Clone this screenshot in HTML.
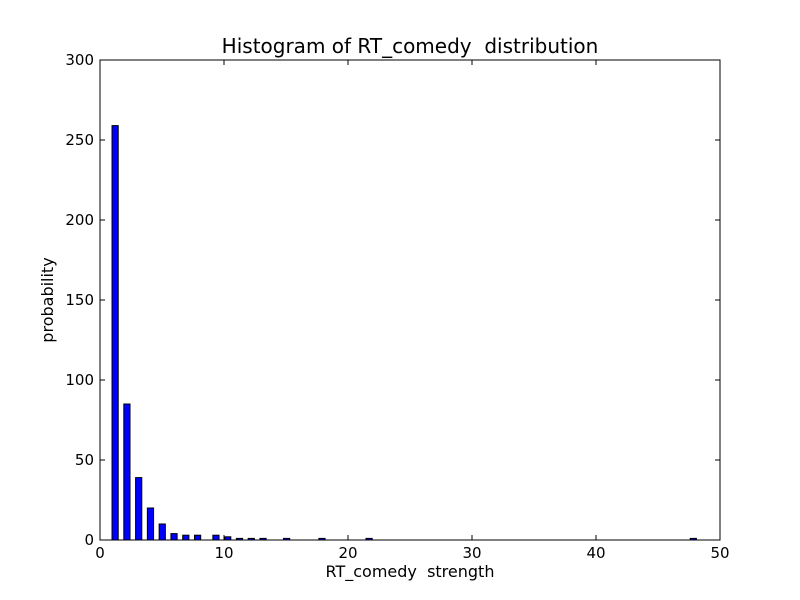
<!DOCTYPE html>
<html><head><meta charset="utf-8"><style>
body{margin:0;background:#fff;}
svg{display:block;font-family:"DejaVu Sans","Liberation Sans",sans-serif;}
text{white-space:pre;}
</style></head><body>
<svg id="c" width="800" height="600">
<rect width="800" height="600" fill="#fff"/>
<g id="bars"></g>
<rect x="100" y="60" width="620" height="480" fill="none" stroke="#000" stroke-width="1"/>
<g id="ticks"></g>
<text x="410" y="53" font-size="20" text-anchor="middle">Histogram of RT_comedy  distribution</text>
<text x="410" y="577" font-size="16" text-anchor="middle">RT_comedy  strength</text>
<text x="53" y="300" font-size="16" text-anchor="middle" transform="rotate(-90 53 300)">probability</text>
</svg>
<script>
const binLefts=[0.97,1.92,2.87,3.82,4.77,5.72,6.67,7.62,9.1,10.05,11.0,11.95,12.9,14.8,17.65,21.45,47.6];
const counts=[259,85,39,20,10,4,3,3,3,2,1,1,1,1,1,1,1];
const xTicks=[0,10,20,30,40,50];
const yTicks=[0,50,100,150,200,250,300];
const binWidth=0.5;
const X=v=>100+v*620/50, Y=v=>540-v*480/300;
const ns="http://www.w3.org/2000/svg";
const bars=document.getElementById('bars'), tk=document.getElementById('ticks');
binLefts.forEach((b,i)=>{
 const r=document.createElementNS(ns,'rect');
 r.setAttribute('x',X(b));r.setAttribute('y',Y(counts[i]));
 r.setAttribute('width',X(b+binWidth)-X(b));r.setAttribute('height',Y(0)-Y(counts[i]));
 r.setAttribute('fill','#0000ff');r.setAttribute('stroke','#000');r.setAttribute('stroke-width','1');
 
 
 bars.appendChild(r);
});
function line(x1,y1,x2,y2){const l=document.createElementNS(ns,'line');l.setAttribute('x1',x1);l.setAttribute('y1',y1);l.setAttribute('x2',x2);l.setAttribute('y2',y2);l.setAttribute('stroke','#000');tk.appendChild(l);return l;}
function text(x,y,s,a){const t=document.createElementNS(ns,'text');t.setAttribute('x',x);t.setAttribute('y',y);t.setAttribute('font-size','15');t.setAttribute('text-anchor',a);t.textContent=s;tk.appendChild(t);return t;}
xTicks.forEach(v=>{
 const x=X(v);line(x,540,x,535);line(x,60,x,65);
 const t=text(x,558,String(v),'middle');
 
 
});
yTicks.forEach(v=>{
 const y=Y(v);line(100,y,105,y);line(720,y,715,y);
 const t=text(94,y+5,String(v),'end');
 
 
});
</script>
</body></html>
